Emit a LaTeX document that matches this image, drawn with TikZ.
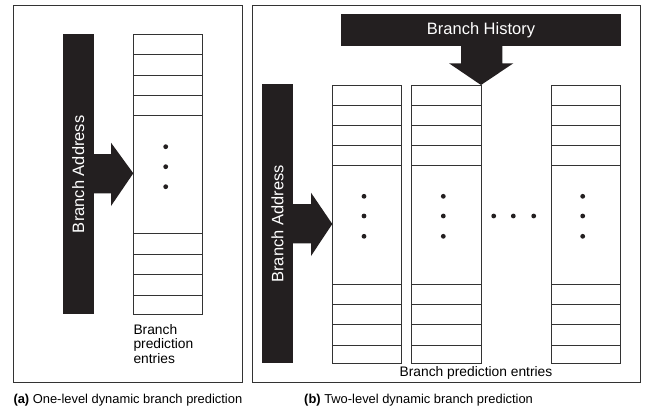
\documentclass[tikz,border=0pt]{standalone}
\usepackage{fontspec}
\setmainfont{Liberation Sans}
\definecolor{barblack}{HTML}{231F20}
\definecolor{linegray}{HTML}{333333}
\begin{document}
\begin{tikzpicture}[x=1pt,y=-1pt,
  panel/.style={draw=linegray, line width=0.9pt, inner sep=0pt, outer sep=0pt, anchor=north west},
  bar/.style={fill=barblack, draw=none, text=white, inner sep=0pt, outer sep=0pt, font=\fontsize{16.5}{19}\selectfont},
  tbl/.style={draw=linegray, line width=0.8pt, fill=white, inner sep=0pt, outer sep=0pt, anchor=north west},
  rowline/.style={draw=linegray, line width=0.8pt},
  blockarrow/.style={fill=barblack, draw=none},
  dotmark/.style={fill=barblack},
  smalltext/.style={inner sep=0pt, font=\fontsize{13.8}{14.3}\selectfont},
  captext/.style={inner sep=0pt, font=\fontsize{12.9}{15}\selectfont, anchor=base west}
]
\useasboundingbox (0,0) rectangle (647,410);

% ---------- panel (a) ----------
\node[panel, minimum width=229, minimum height=377.4] (pa) at (13.3,5.3) {};
\node[bar, minimum width=280, minimum height=31.3, rotate=90] (baa) at (78.35,174.3) {Branch Address};
\node[tbl, minimum width=69, minimum height=280] (ta) at (133.3,34.3) {};
\foreach \yy in {54.3,75,95,115,233.7,254,274,295.7}
  \draw[rowline] (ta.west |- 0,\yy) -- (ta.east |- 0,\yy);
\fill[blockarrow] (90,154) -- (111,154) -- (111,142.7) -- (ta.west |- 0,173.3) -- (111,206) -- (111,193.3) -- (90,193.3) -- cycle;
\foreach \yy in {146.7,166.7,186.7}
  \fill[dotmark] (165.7,\yy) circle (2.4);
\node[smalltext, align=left, anchor=north west] (la) at (133.3,324.3) {Branch\\prediction\\entries};
\node[captext] (ca) at (13.3,403.7) {\textbf{(a)} One-level dynamic branch prediction};

% ---------- panel (b) ----------
\node[panel, minimum width=387.3, minimum height=377.4] (pb) at (252.7,5.3) {};
\node[bar, minimum width=280, minimum height=31.4] (bh) at (481,30) {Branch History};
\node[bar, minimum width=279, minimum height=30.4, rotate=90] (bab) at (277.5,223.8) {Branch Address};
\node[tbl, minimum width=69.4, minimum height=278.3] (t1) at (332.3,85) {};
\node[tbl, minimum width=69.3, minimum height=278.3] (t2) at (411.7,85) {};
\node[tbl, minimum width=69, minimum height=278.3] (t3) at (551,85) {};
\foreach \t in {t1,t2,t3}
  \foreach \yy in {105,125,145,165,284.3,304.3,324,345.7}
    \draw[rowline] (\t.west |- 0,\yy) -- (\t.east |- 0,\yy);
\fill[blockarrow] (461,45) -- (502.3,45) -- (502.3,63.3) -- (513.3,63.3) -- (t2.north east) -- (449,63.3) -- (461,63.3) -- cycle;
\fill[blockarrow] (288,204) -- (311,204) -- (311,192.7) -- (t1.west |- 0,224) -- (311,256) -- (311,243.3) -- (288,243.3) -- cycle;
\foreach \xx in {364,443.3,582.7}
  \foreach \yy in {196.3,216,236.3}
    \fill[dotmark] (\xx,\yy) circle (2.4);
\foreach \xx in {493.7,513.3,533.7}
  \fill[dotmark] (\xx,216) circle (2.4);
\node[smalltext, anchor=base] (lb) at (476,376.7) {Branch prediction entries};
\node[captext] (cb) at (304,403.7) {\textbf{(b)} Two-level dynamic branch prediction};
\end{tikzpicture}
\end{document}
